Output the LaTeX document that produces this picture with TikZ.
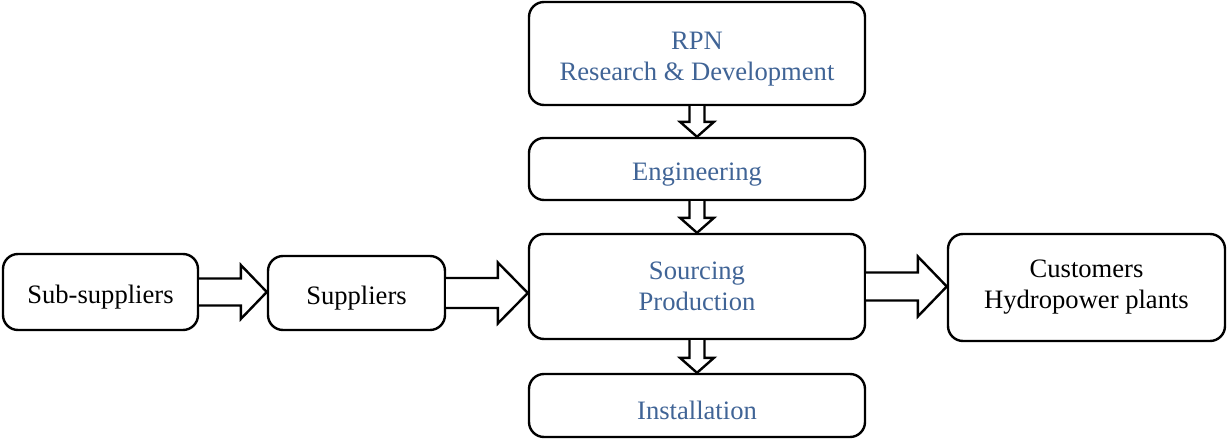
\documentclass[tikz,border=0pt]{standalone}
\usepackage{fontspec}
\setmainfont{Liberation Serif}
\usetikzlibrary{calc}
\definecolor{flowblue}{RGB}{64,100,150}

% horizontal block arrow: start anchor, end anchor, shaft half-height, head half-height, head length
\newcommand{\hblock}[5]{%
  \draw[blockarrow] let \p1=(#1), \p2=(#2) in
    (\x1,\y1+#3) -- (\x2-#5,\y1+#3) -- (\x2-#5,\y1+#4) -- (\x2,\y1)
    -- (\x2-#5,\y1-#4) -- (\x2-#5,\y1-#3) -- (\x1,\y1-#3);}
% vertical block arrow pointing down
\newcommand{\vblock}[5]{%
  \draw[blockarrow] let \p1=(#1), \p2=(#2) in
    (\x1-#3,\y1) -- (\x1-#3,\y2+#5) -- (\x1-#4,\y2+#5) -- (\x1,\y2)
    -- (\x1+#4,\y2+#5) -- (\x1+#3,\y2+#5) -- (\x1+#3,\y1);}

\begin{document}
\begin{tikzpicture}[x=1pt,y=-1pt,
  box/.style={draw, line width=2.4pt, rounded corners=15pt, align=center,
    inner sep=0pt, font=\fontsize{26.6}{31}\selectfont,
    execute at begin node={\rule{0pt}{28pt}}},
  bluetext/.style={text=flowblue},
  blockarrow/.style={draw, fill=white, line width=2.4pt, line join=miter}]
\useasboundingbox (0,0) rectangle (1227,439);

\node[box, minimum width=195pt, minimum height=76pt] (sub) at (100.5,292) {Sub-suppliers};
\node[box, minimum width=177pt, minimum height=74pt] (sup) at (356.5,293) {Suppliers};
\node[box, bluetext, minimum width=336pt, minimum height=105pt] (src) at (697,286.5) {Sourcing\\Production};
\node[box, minimum width=277pt, minimum height=107pt] (cust) at (1086.5,287.5) {Customers\\Hydropower plants};
\node[box, bluetext, minimum width=336pt, minimum height=103pt] (rpn) at (697,53.5) {\rule{0pt}{28pt}RPN\\Research \& Development};
\node[box, bluetext, minimum width=336pt, minimum height=62pt] (eng) at (697,169) {Engineering};
\node[box, bluetext, minimum width=336pt, minimum height=63pt] (inst) at (697,405.5) {Installation};

\hblock{sub.east}{sup.west}{13.5pt}{27pt}{26pt}
\hblock{sup.east}{src.west |- sup.east}{15pt}{30.5pt}{30pt}
\hblock{src.east}{cust.west}{14pt}{30pt}{29pt}

\vblock{rpn.south}{eng.north}{7.5pt}{17pt}{15pt}
\vblock{eng.south}{src.north}{7.5pt}{17pt}{15pt}
\vblock{src.south}{inst.north}{7.5pt}{17pt}{15pt}
\end{tikzpicture}
\end{document}
